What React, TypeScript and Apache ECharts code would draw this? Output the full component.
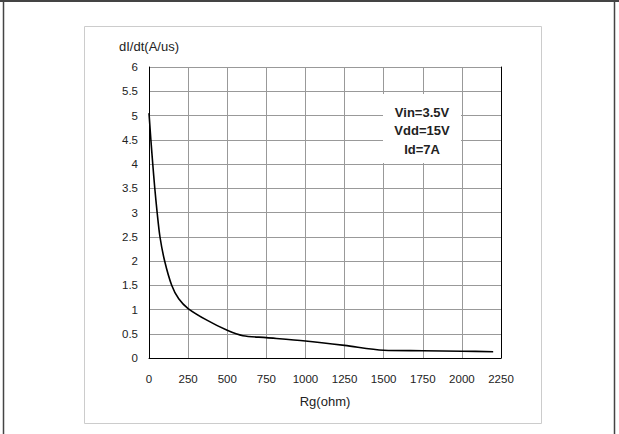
import React, { useEffect, useRef } from "react";
import * as echarts from "echarts";

const rgOhm: number[] = [0, 12, 24, 37, 52, 70, 100, 145, 190, 250, 370, 500, 600, 750, 1000, 1250, 1500, 1750, 2000, 2200];
const diDt: number[] = [5.05, 4.5, 4.0, 3.5, 3.0, 2.5, 2.0, 1.5, 1.22, 1.02, 0.78, 0.57, 0.46, 0.42, 0.35, 0.26, 0.16, 0.15, 0.14, 0.13];
const noteLines: string[] = ["Vin=3.5V", "Vdd=15V", "Id=7A"];

export default function App() {
  const ref = useRef<HTMLDivElement>(null);
  useEffect(() => {
    if (!ref.current) return;
    const chart = echarts.init(ref.current, undefined, { renderer: "svg" });
    const font = "'Liberation Sans', Arial, sans-serif";
    chart.setOption({
      animation: false,
      backgroundColor: "#fff",
      grid: { left: 149, top: 67, right: 118, bottom: 76 },
      xAxis: {
        type: "value",
        min: 0,
        max: 2250,
        interval: 250,
        name: "Rg(ohm)",
        nameLocation: "middle",
        nameGap: 37,
        nameTextStyle: { fontFamily: font, fontSize: 13, color: "#222" },
        axisLine: { show: true, lineStyle: { color: "#000", width: 1 } },
        axisTick: { show: false },
        axisLabel: { fontFamily: font, fontSize: 11.5, color: "#222", margin: 15, formatter: (v: number) => String(v) },
        splitLine: { show: true, lineStyle: { color: "#999", width: 1 } },
      },
      yAxis: [
        {
          type: "value",
          min: 0,
          max: 6,
          interval: 0.5,
          name: "dI/dt(A/us)",
          nameLocation: "end",
          nameGap: 14,
          nameTextStyle: { fontFamily: font, fontSize: 13, color: "#222", align: "center" },
          axisLine: { show: true, lineStyle: { color: "#000", width: 1 } },
          axisTick: { show: false },
          axisLabel: { fontFamily: font, fontSize: 11.5, color: "#222", margin: 11, formatter: (v: number) => String(v) },
          splitLine: { show: true, lineStyle: { color: "#999", width: 1 } },
        },
        {
          type: "value",
          min: 0,
          max: 6,
          interval: 0.5,
          position: "right",
          axisLine: { show: true, lineStyle: { color: "#000", width: 1 } },
          axisTick: { show: false },
          axisLabel: { show: false },
          splitLine: { show: false },
        },
      ],
      series: [
        {
          type: "line",
          data: rgOhm.map((x, i) => [x, diDt[i]]),
          smooth: 0.3,
          showSymbol: false,
          lineStyle: { color: "#000", width: 1.6 },
          z: 5,
        },
      ],
      graphic: [
        { type: "line", shape: { x1: 0, y1: 1, x2: 619, y2: 1 }, style: { stroke: "#444", lineWidth: 2 } },
        { type: "line", shape: { x1: 3.5, y1: 0, x2: 3.5, y2: 434 }, style: { stroke: "#444", lineWidth: 1.5 } },
        { type: "line", shape: { x1: 614.5, y1: 0, x2: 614.5, y2: 434 }, style: { stroke: "#444", lineWidth: 1.5 } },
        { type: "rect", shape: { x: 84.5, y: 26.5, width: 457, height: 397 }, style: { fill: "none", stroke: "#ccc", lineWidth: 1 }, z: -1 },
        { type: "rect", shape: { x: 383, y: 94, width: 78, height: 69 }, style: { fill: "#fff" }, z: 10 },
        ...noteLines.map((t, i) => ({
          type: "text",
          x: 422,
          y: 112 + i * 18.5,
          z: 11,
          style: {
            text: t,
            fontFamily: font,
            fontSize: 13,
            fontWeight: "bold",
            fill: "#222",
            textAlign: "center",
            textVerticalAlign: "middle",
          },
        })),
      ],
    });
    return () => chart.dispose();
  }, []);
  return <div ref={ref} style={{ width: 619, height: 434, position: "absolute", left: 0, top: 0 }} />;
}
